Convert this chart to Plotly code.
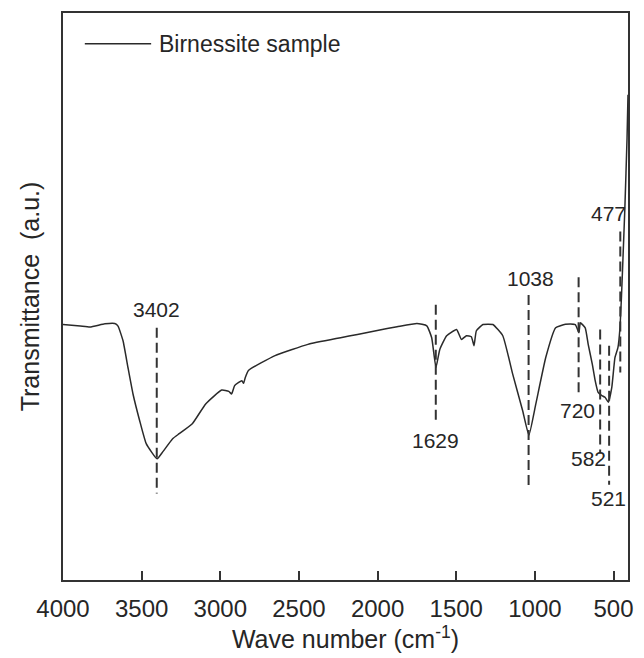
import plotly.graph_objects as go

# ---- data ----
wavenumber = [4000, 3890, 3828, 3734, 3671, 3650, 3618, 3587, 3555, 3513, 3471, 3402,
              3366, 3303, 3261, 3178, 3093, 2991, 2946, 2928, 2909, 2883, 2863, 2852,
              2841, 2821, 2652, 2443, 2235, 2128, 2002, 1876, 1750, 1687, 1656, 1629,
              1605, 1561, 1498, 1467, 1435, 1404, 1387, 1372, 1330, 1267, 1204, 1141,
              1078, 1038, 994, 931, 868, 806, 743, 720, 711, 680, 661, 635, 617, 598,
              574, 554, 533, 511, 491, 472, 459, 449, 440, 428, 414, 408]
transmittance = [45.06, 44.78, 44.61, 45.18, 45.24, 44.78, 42.15, 37.48, 32.80, 28.14, 24.05, 21.37,
                 22.59, 24.92, 25.80, 27.55, 31.05, 33.50, 33.27, 32.80, 34.27, 34.85, 35.15, 34.68,
                 35.73, 36.95, 39.58, 41.56, 42.73, 43.31, 44.01, 44.66, 45.24, 44.83, 42.73, 37.48,
                 40.63, 43.08, 44.19, 42.43, 43.08, 42.91, 41.33, 43.96, 45.06, 45.06, 43.08, 36.30,
                 29.89, 25.52, 31.05, 39.23, 44.48, 45.10, 45.06, 43.61, 45.36, 44.48, 41.56, 38.06,
                 35.20, 33.10, 32.52, 32.22, 31.35, 33.98, 39.23, 40.98, 44.48, 50.31, 56.74, 65.50,
                 78.0, 85.6]

peak_labels = ["3402", "1629", "1038", "720", "582", "521", "477"]
marker_x = [3404, 1630, 1040, 722, 585, 528, 457]          # dashed marker positions
marker_top = [44.48, 48.56, 50.26, 53.41, 44.19, 41.33, 61.47]
marker_bottom = [15.24, 27.55, 16.34, 32.22, 22.29, 16.81, 36.60]
label_x = [3404, 1630, 1026, 726, 659, 533, 535]
label_y = [47.64, 24.52, 53.24, 29.89, 21.42, 14.41, 64.62]

x_ticks = [4000, 3500, 3000, 2500, 2000, 1500, 1000, 500]
series_name = "Birnessite sample"

FONT = "Liberation Sans, Arial, sans-serif"
INK = "#262626"

fig = go.Figure()
fig.add_trace(go.Scatter(
    x=wavenumber, y=transmittance, mode="lines", name=series_name,
    line=dict(color="#2a2a2a", width=1.5, shape="spline", smoothing=0.4), showlegend=False,
))

shapes = []
for xv, y0, y1 in zip(marker_x, marker_top, marker_bottom):
    shapes.append(dict(type="line", xref="x", yref="y", x0=xv, x1=xv, y0=y0, y1=y1,
                       line=dict(color="#333333", width=2, dash="10px,5px")))
# legend sample line
shapes.append(dict(type="line", xref="paper", yref="paper", x0=0.0386, x1=0.156,
                   y0=0.9457, y1=0.9457, line=dict(color="#2a2a2a", width=1.4)))

annotations = []
for txt, xv, yv in zip(peak_labels, label_x, label_y):
    annotations.append(dict(text=txt, x=xv, y=yv, xref="x", yref="y", showarrow=False,
                            xanchor="center", yanchor="middle",
                            font=dict(family=FONT, size=21, color=INK)))
annotations.append(dict(text=series_name, x=0.1667, y=0.9457, xref="paper", yref="paper",
                        showarrow=False, xanchor="left", yanchor="middle",
                        font=dict(family=FONT, size=23, color=INK)))

fig.update_layout(
    width=644, height=658,
    margin=dict(l=63, r=11, t=13, b=74),
    paper_bgcolor="white", plot_bgcolor="white",
    font=dict(family=FONT, color=INK),
    shapes=shapes, annotations=annotations,
    xaxis=dict(
        range=[4000, 408], tickvals=x_ticks, ticktext=[str(t) for t in x_ticks],
        ticks="inside", ticklen=9, tickwidth=1.5, tickcolor="#333333",
        showline=True, linecolor="#333333", linewidth=2, mirror=True,
        showgrid=False, zeroline=False,
        tickfont=dict(family=FONT, size=24, color=INK),
        ticklabelstandoff=6,
        title=dict(text="Wave number (cm<sup>-1</sup>)", standoff=8,
                   font=dict(family=FONT, size=25, color=INK)),
    ),
    yaxis=dict(
        range=[0, 100], showticklabels=False, ticks="",
        showline=True, linecolor="#333333", linewidth=2, mirror=True,
        showgrid=False, zeroline=False,
        title=dict(text="Transmittance\u00a0 (a.u.)", standoff=14,
                   font=dict(family=FONT, size=25, color=INK)),
    ),
)

fig.write_html("out.html")
